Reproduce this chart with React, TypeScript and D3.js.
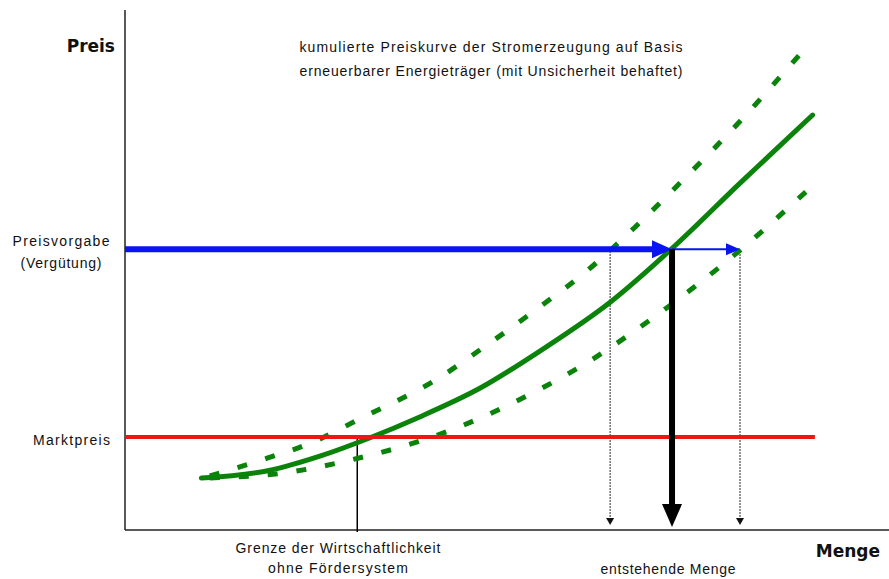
import React from "react";
import * as d3 from "d3";

// Data in abstract units: Menge (x) 0..100, Preis (y) 0..100
const mainX = [10, 19, 25.5, 32, 38.5, 46.5, 54.5, 63.5, 71.5, 80.5, 90];
const mainY = [10, 11.5, 14.2, 17.7, 21.7, 27.3, 34.6, 43.8, 54, 66.7, 79.8];

const upperX = [11.1, 18.6, 24.6, 30.5, 40.6, 47.4, 54.1, 60.6, 66.8, 73.3, 79.8, 88.6];
const upperY = [10.4, 13.8, 16.9, 21.2, 28.8, 35.6, 42.7, 50.0, 58.3, 67.7, 77.5, 91.9];

const lowerX = [11.1, 20.9, 30.5, 41.0, 54.6, 60.6, 67.4, 73.7, 80.5, 89.7];
const lowerY = [10.0, 11.0, 13.8, 18.3, 27.3, 32.3, 39.0, 45.8, 53.8, 65.8];

const preisvorgabe = 54.0;
const marktpreis = 17.9;
const marktpreisEnd = 90.3;
const mengeMitte = 71.6;
const mengeMin = 63.5;
const mengeMax = 80.5;
const grenzeX = 30.4;

const titleLines = [
  "kumulierte Preiskurve der Stromerzeugung auf Basis",
  "erneuerbarer Energieträger (mit Unsicherheit behaftet)",
];

const W = 889;
const H = 579;

export default function App() {
  const x = d3.scaleLinear().domain([0, 100]).range([125, 889]);
  const y = d3.scaleLinear().domain([0, 100]).range([530, 10]);

  const line = d3
    .line<[number, number]>()
    .x((d) => x(d[0]))
    .y((d) => y(d[1]))
    .curve(d3.curveMonotoneX);

  const mainPath = line(mainX.map((v, i) => [v, mainY[i]]) as [number, number][]) || "";
  const upperPath = line(upperX.map((v, i) => [v, upperY[i]]) as [number, number][]) || "";
  const lowerPath = line(lowerX.map((v, i) => [v, lowerY[i]]) as [number, number][]) || "";

  const green = "#0b830b";
  const blue = "#0a14f0";
  const red = "#ee1515";
  const font = "'Liberation Sans', Arial, sans-serif";
  const boldFont = "'DejaVu Sans', Verdana, sans-serif";

  const yP = y(preisvorgabe);
  const xM = x(mengeMitte);
  const xMax = x(mengeMax);
  const xMin = x(mengeMin);
  const axisY = y(0);
  const axisX = x(0);

  const fs = 14;

  return (
    <svg
      width={W}
      height={H}
      style={{ position: "absolute", left: 0, top: 0, background: "#fff" }}
    >
      {/* axes */}
      <line x1={axisX} y1={10} x2={axisX} y2={axisY} stroke="#222" strokeWidth={1.5} />
      <line x1={axisX} y1={axisY} x2={W} y2={axisY} stroke="#222" strokeWidth={1.5} />

      {/* Grenze line */}
      <line x1={x(grenzeX)} y1={y(marktpreis)} x2={x(grenzeX)} y2={axisY + 2} stroke="#000" strokeWidth={1.5} />

      {/* dotted lines */}
      {[xMin, xMax].map((xx, i) => (
        <g key={i}>
          <line x1={xx} y1={yP + 2} x2={xx} y2={axisY - 10} stroke="#111" strokeWidth={1.2} strokeDasharray="1.5 1.5" />
          <path d={`M${xx - 4},${axisY - 12} L${xx + 4},${axisY - 12} L${xx},${axisY - 5} Z`} fill="#111" />
        </g>
      ))}

      {/* green curves */}
      <path d={upperPath} fill="none" stroke={green} strokeWidth={5} strokeDasharray="10 19" />
      <path d={lowerPath} fill="none" stroke={green} strokeWidth={5} strokeDasharray="10 19" />
      <path d={mainPath} fill="none" stroke={green} strokeWidth={5} strokeLinecap="round" strokeLinejoin="round" />

      {/* Marktpreis line */}
      <line x1={axisX} y1={y(marktpreis)} x2={x(marktpreisEnd)} y2={y(marktpreis)} stroke={red} strokeWidth={4} />

      {/* blue arrow */}
      <line x1={axisX} y1={yP} x2={xM - 16} y2={yP} stroke={blue} strokeWidth={6} />
      <path d={`M${xM - 20},${yP - 9} L${xM},${yP} L${xM - 20},${yP + 9} Z`} fill={blue} />
      <line x1={xM} y1={yP} x2={xMax - 10} y2={yP} stroke={blue} strokeWidth={2} />
      <path d={`M${xMax - 14},${yP - 6} L${xMax},${yP} L${xMax - 14},${yP + 6} Z`} fill={blue} />

      {/* black arrow */}
      <line x1={xM} y1={yP} x2={xM} y2={axisY - 24} stroke="#000" strokeWidth={6} />
      <path d={`M${xM - 10},${axisY - 26} L${xM + 10},${axisY - 26} L${xM},${axisY - 3} Z`} fill="#000" />

      {/* labels */}
      <text x={115} y={52} textAnchor="end" fontFamily={boldFont} fontWeight="bold" fontSize={17} fill="#111">
        Preis
      </text>
      <text x={880} y={557} textAnchor="end" fontFamily={boldFont} fontWeight="bold" fontSize={17} fill="#111">
        Menge
      </text>
      {titleLines.map((t, i) => (
        <text
          key={i}
          x={491}
          y={52 + i * 24}
          textAnchor="middle"
          fontFamily={font}
          fontSize={fs}
          fill="#111"
          textLength={383}
          lengthAdjust="spacing"
        >
          {t}
        </text>
      ))}
      <text x={61} y={246} textAnchor="middle" fontFamily={font} fontSize={fs} fill="#111" textLength={97} lengthAdjust="spacing">
        Preisvorgabe
      </text>
      <text x={61} y={268} textAnchor="middle" fontFamily={font} fontSize={fs} fill="#111" textLength={81} lengthAdjust="spacing">
        (Vergütung)
      </text>
      <text x={110} y={445} textAnchor="end" fontFamily={font} fontSize={fs} fill="#111" textLength={77} lengthAdjust="spacing">
        Marktpreis
      </text>
      <text x={338} y={553} textAnchor="middle" fontFamily={font} fontSize={fs} fill="#111" textLength={205} lengthAdjust="spacing">
        Grenze der Wirtschaftlichkeit
      </text>
      <text x={338} y={573} textAnchor="middle" fontFamily={font} fontSize={fs} fill="#111" textLength={140} lengthAdjust="spacing">
        ohne Fördersystem
      </text>
      <text x={668} y={574} textAnchor="middle" fontFamily={font} fontSize={fs} fill="#111" textLength={135} lengthAdjust="spacing">
        entstehende Menge
      </text>
    </svg>
  );
}
